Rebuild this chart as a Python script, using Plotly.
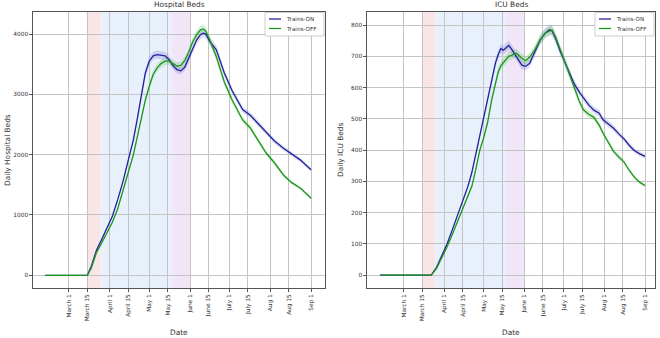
import pandas as pd
import plotly.graph_objects as go

# ---------------- data (days offset from 2020-03-01) ----------------
hosp_days = [-18, 14, 17, 21, 25, 29, 33, 37, 41, 45, 49, 52, 55, 58, 61, 64, 67, 70, 73, 76,
             79, 82, 85, 88, 91, 94, 97, 100, 102, 104, 107, 112, 118, 124, 132, 138, 144, 150,
             156, 163, 169, 176, 180, 184]
hosp_on = [0, 0, 150, 420, 600, 780, 980, 1250, 1550, 1900, 2250, 2600, 3000, 3350, 3550, 3640,
           3660, 3650, 3640, 3580, 3480, 3410, 3390, 3450, 3600, 3760, 3900, 3990, 4015, 4000,
           3880, 3740, 3360, 3060, 2750, 2650, 2510, 2360, 2230, 2106, 2020, 1910, 1830, 1750]
hosp_off = [0, 0, 120, 380, 540, 700, 880, 1100, 1380, 1700, 2000, 2300, 2620, 2900, 3130, 3330,
            3440, 3510, 3550, 3550, 3510, 3470, 3480, 3560, 3700, 3870, 3990, 4070, 4085, 4050,
            3900, 3625, 3211, 2907, 2576, 2438, 2230, 2023, 1870, 1663, 1540, 1443, 1360, 1277]
hosp_band_frac = 0.018

icu_days = [-18, 21, 25, 29, 33, 37, 41, 45, 49, 52, 55, 58, 61, 64, 67, 70, 72, 74, 76, 78,
            80, 82, 84, 86, 88, 90, 93, 96, 100, 104, 108, 111, 113, 116, 119, 122, 126, 130,
            134, 137, 141, 145, 149, 152, 156, 160, 164, 168, 172, 176, 180, 184]
icu_on = [0, 0, 25, 60, 100, 145, 190, 240, 285, 330, 390, 450, 500, 570, 630, 680, 705, 725,
          720, 728, 735, 725, 712, 700, 685, 672, 668, 678, 715, 752, 775, 785, 782, 755, 720,
          690, 650, 612, 585, 566, 545, 528, 518, 497, 485, 470, 452, 436, 415, 398, 388, 380]
icu_off = [0, 0, 22, 55, 90, 130, 172, 215, 260, 285, 340, 400, 440, 490, 560, 620, 650, 670,
           680, 690, 700, 703, 707, 710, 702, 694, 686, 698, 722, 753, 775, 782, 785, 760, 725,
           690, 645, 595, 555, 529, 515, 505, 480, 454, 425, 396, 378, 362, 335, 313, 297, 287]
icu_band_frac = 0.02

tick_dates = ["2020-03-01", "2020-03-15", "2020-04-01", "2020-04-15", "2020-05-01", "2020-05-15",
              "2020-06-01", "2020-06-15", "2020-07-01", "2020-07-15", "2020-08-01", "2020-08-15",
              "2020-09-01"]
tick_labels = ["March 1", "March 15", "April 1", "April 15", "May 1", "May 15", "June 1",
               "June 15", "July 1", "July 15", "Aug 1", "Aug 15", "Sep 1"]
phase_dates = ["2020-03-15", "2020-03-25", "2020-05-18", "2020-06-01"]
phase_colors = ["#f9e5e6", "#e8f1fb", "#f0e6f8"]

series_names = ["Trains-ON", "Trains-OFF"]
line_colors = ["#22229a", "#1c961c"]
band_colors = ["rgba(90,90,210,0.22)", "rgba(60,180,60,0.22)"]

base = pd.Timestamp("2020-03-01")


def to_dates(days):
    return [base + pd.Timedelta(days=d) for d in days]


FONT = "DejaVu Sans"
W, H = 660, 338
fig = go.Figure()

panels = [
    dict(days=hosp_days, vals=[hosp_on, hosp_off], frac=hosp_band_frac, xa="x", ya="y"),
    dict(days=icu_days, vals=[icu_on, icu_off], frac=icu_band_frac, xa="x2", ya="y2"),
]

for p in panels:
    dates = to_dates(p["days"])
    for i, vals in enumerate(p["vals"]):
        lo = [v * (1 - p["frac"]) for v in vals]
        hi = [v * (1 + p["frac"]) for v in vals]
        fig.add_trace(go.Scatter(x=dates, y=lo, mode="lines", line=dict(width=0),
                                 showlegend=False, hoverinfo="skip", xaxis=p["xa"], yaxis=p["ya"]))
        fig.add_trace(go.Scatter(x=dates, y=hi, mode="lines", line=dict(width=0), fill="tonexty",
                                 fillcolor=band_colors[i], showlegend=False, hoverinfo="skip",
                                 xaxis=p["xa"], yaxis=p["ya"]))
    for i, vals in enumerate(p["vals"]):
        fig.add_trace(go.Scatter(x=dates, y=vals, mode="lines", name=series_names[i],
                                 line=dict(color=line_colors[i], width=1.3), showlegend=False,
                                 xaxis=p["xa"], yaxis=p["ya"]))

# phase shading
for xa in ["x", "x2"]:
    for j in range(3):
        fig.add_shape(type="rect", xref=xa, yref=("y domain" if xa == "x" else "y2 domain"),
                      x0=phase_dates[j], x1=phase_dates[j + 1], y0=0, y1=1,
                      fillcolor=phase_colors[j], line_width=0, layer="below")

ydom = [1 - 288 / H, 1 - 11.7 / H]
axis_common = dict(showgrid=True, gridcolor="#c4c4c4", gridwidth=1, showline=True,
                   linecolor="#555", linewidth=1, mirror=True, ticks="outside", ticklen=3,
                   tickcolor="#555", zeroline=False, tickfont=dict(family=FONT, size=5.8, color="#333"))

fig.update_layout(
    width=W, height=H, margin=dict(l=0, r=0, t=0, b=0),
    paper_bgcolor="white", plot_bgcolor="white", showlegend=False,
    font=dict(family=FONT, color="#222"),
    xaxis=dict(domain=[33.3 / W, 325 / W], anchor="y", type="date",
               range=["2020-02-02 22:00", "2020-09-11 14:00"],
               tickvals=tick_dates, ticktext=tick_labels, tickangle=-90, **axis_common),
    yaxis=dict(domain=ydom, anchor="x", range=[-211, 4371],
               tickvals=[0, 1000, 2000, 3000, 4000], **axis_common),
    xaxis2=dict(domain=[367.3 / W, 655 / W], anchor="y2", type="date",
                range=["2020-02-02 05:00", "2020-09-08 14:00"],
                tickvals=tick_dates, ticktext=tick_labels, tickangle=-90, **axis_common),
    yaxis2=dict(domain=ydom, anchor="x2", range=[-41, 843],
                tickvals=[0, 100, 200, 300, 400, 500, 600, 700, 800], **axis_common),
)

ann_font = dict(family=FONT, size=7.4, color="#333")
annotations = [
    dict(text="Hospital Beds", x=179 / W, y=1 - 5 / H),
    dict(text="ICU Beds", x=511 / W, y=1 - 5 / H),
    dict(text="Date", x=179 / W, y=1 - 332 / H),
    dict(text="Date", x=511 / W, y=1 - 332 / H),
    dict(text="Daily Hospital Beds", x=7 / W, y=1 - 150 / H, textangle=-90),
    dict(text="Daily ICU Beds", x=340 / W, y=1 - 150 / H, textangle=-90),
]
for a in annotations:
    fig.add_annotation(xref="paper", yref="paper", showarrow=False, xanchor="center",
                       yanchor="middle", font=ann_font, **a)

# compact legend boxes (matplotlib style), one per panel
for right_edge in [324, 654]:
    x0 = right_edge - 59
    fig.add_shape(type="rect", xref="paper", yref="paper",
                  x0=x0 / W, x1=right_edge / W, y0=1 - 36 / H, y1=1 - 12.5 / H,
                  fillcolor="white", line=dict(color="#cccccc", width=1), layer="above")
    for i, (nm, col) in enumerate(zip(series_names, line_colors)):
        yy = 1 - (19 + 9.5 * i) / H
        fig.add_shape(type="line", xref="paper", yref="paper",
                      x0=(x0 + 4) / W, x1=(x0 + 16) / W, y0=yy, y1=yy,
                      line=dict(color=col, width=1.3), layer="above")
        fig.add_annotation(xref="paper", yref="paper", x=(x0 + 19) / W, y=yy, text=nm,
                           showarrow=False, xanchor="left", yanchor="middle",
                           font=dict(family=FONT, size=5.6, color="#333"))

fig.write_html("out.html", config={"displayModeBar": False},
               post_script="document.body.style.margin='0px';")
